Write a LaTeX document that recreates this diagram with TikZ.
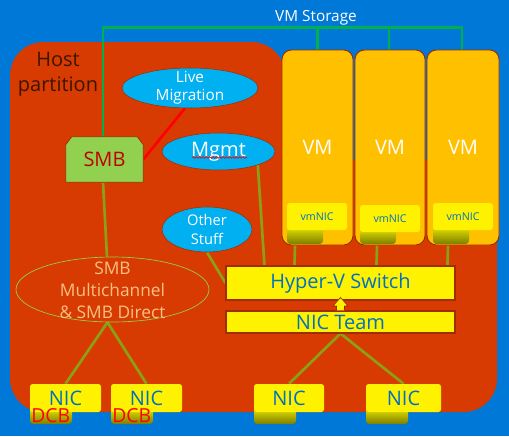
\documentclass[tikz,border=0pt]{standalone}
\usepackage{fontspec}
\setmainfont{Open Sans}
\usetikzlibrary{calc,shapes.geometric,decorations.pathmorphing}
\pgfdeclarelayer{layera}
\pgfdeclarelayer{layerb}
\pgfdeclarelayer{layerc}
\pgfsetlayers{layera,layerb,layerc,main}
\definecolor{bgblue}{RGB}{0,120,215}
\definecolor{hostc}{RGB}{216,59,1}
\definecolor{cyanc}{RGB}{0,176,240}
\definecolor{vmc}{RGB}{255,192,0}
\definecolor{txtblue}{RGB}{0,112,192}
\definecolor{linec}{RGB}{140,160,20}
\definecolor{edgec}{RGB}{160,45,0}
\definecolor{storc}{RGB}{0,176,80}
\definecolor{smbg}{RGB}{146,208,80}
\definecolor{peach}{RGB}{248,192,130}
\definecolor{olivedk}{RGB}{125,125,0}
\definecolor{hosttxt}{RGB}{58,22,0}
\definecolor{smbred}{RGB}{192,0,0}
\begin{document}
\begin{tikzpicture}[x=0.75pt,y=-0.75pt,
 vmbox/.style={draw=edgec,line width=0.7pt,fill=vmc,rounded corners=7pt,minimum width=#1*0.75pt,minimum height=146.25pt,inner sep=0pt,text=white,font=\fontsize{15}{18}\selectfont},
 vnic/.style={fill=yellow,rounded corners=2pt,minimum width=45pt,minimum height=20.25pt,inner sep=0pt,text=txtblue,font=\fontsize{8}{10}\selectfont},
 tabshade/.style={top color=yellow,bottom color=olivedk,rounded corners=2.5pt},
 bubble/.style={ellipse,draw=edgec,line width=0.4pt,fill=cyanc,inner sep=0pt},
 bubtxt/.style={text=white,align=center,inner sep=0pt},
 ybar/.style={draw=edgec,line width=0.8pt,fill=yellow,text=txtblue,inner sep=0pt,minimum width=171.75pt,font=\fontsize{15}{18}\selectfont},
 nicbox/.style={fill=yellow,rounded corners=2pt,text=txtblue,inner sep=0pt,minimum height=21pt,font=\fontsize{15}{18}\selectfont},
 dcbtxt/.style={text=red,inner sep=0pt,anchor=west,font=\fontsize{14.5}{17}\selectfont},
 conn/.style={draw=linec,line width=2pt},
 storline/.style={draw=storc,line width=2pt},
]
\useasboundingbox (0,0) rectangle (509,436);
\begin{pgfonlayer}{layera}
\fill[bgblue] (0,0) rectangle (509,436);
\fill[hostc,rounded corners=25pt] (10,42) -- (285,42) -- (285,160) -- (497,160) -- (497,412) -- (10,412) -- cycle;
\end{pgfonlayer}

\node[text=hosttxt,align=center,font=\fontsize{15}{18.75}\selectfont] (host) at (58,74) {Host\\partition};
\node[text=white,font=\fontsize{11.5}{14}\selectfont] (storage) at (316,18) {VM Storage};

% VMs
\node[vmbox=71] (vm1) at (317.5,147.5) {VM};
\node[vmbox=70] (vm2) at (390,147.5) {VM};
\node[vmbox=72] (vm3) at (463,147.5) {VM};
\shade[tabshade] (287,222) rectangle (323,244);
\shade[tabshade] (360,224) rectangle (396,244);
\shade[tabshade] (433,222) rectangle (469,244);
\node[vnic] (vn1) at (317,216.5) {vmNIC};
\node[vnic] (vn2) at (390,218.5) {vmNIC};
\node[vnic] (vn3) at (463,216.5) {vmNIC};

% switch and team
\node[ybar,minimum height=25.5pt] (hv) at (340.5,283) {Hyper-V Switch};
\node[ybar,minimum height=16.5pt] (team) at (340.5,322) {NIC Team};
\draw[draw=edgec,fill=yellow,line width=0.5pt] ($(team.north)+(-4,0)$) -- ++(0,-4.5) -- ++(-3.5,0) -- ($(team.north)+(0,-13)$) -- ($(team.north)+(7.5,-4.5)$) -- ++(-3.5,0) -- ($(team.north)+(4,0)$);

% bubbles
\node[bubble,minimum width=102pt,minimum height=30pt] (lm) at (190,88) {};
\node[bubtxt,font=\fontsize{11.5}{13.5}\selectfont] (lmt) at (lm.center) {Live\\Migration};
\node[bubble,minimum width=84.75pt,minimum height=27.75pt] (mgmt) at (218.5,151.5) {};
\node[bubtxt,font=\fontsize{15}{18}\selectfont] (mgmtt) at (mgmt.center) {Mgmt};
\draw[red,line width=0.5pt,decorate,decoration={snake,amplitude=0.6pt,segment length=2.5pt}] ($(mgmt.center)+(-26.5,6)$) -- ($(mgmt.center)+(28.5,6)$);
\node[bubble,minimum width=67.5pt,minimum height=33.75pt] (other) at (207,229.5) {};
\node[bubtxt,font=\fontsize{11}{14}\selectfont] (othert) at (other.center) {Other\\Stuff};

% SMB
\node[inner sep=0pt,minimum width=57.75pt,minimum height=33.75pt,text=smbred,font=\fontsize{15}{18}\selectfont] (smb) at (104.5,159.5) {SMB};
\begin{pgfonlayer}{layerc}
\filldraw[fill=smbg,draw=edgec,line width=0.5pt] (smb.south west) -- ($(smb.north west)+(0,8)$) -- ($(smb.north west)+(6,0)$) -- ($(smb.north east)+(-6,0)$) -- ($(smb.north east)+(0,8)$) -- (smb.south east) -- cycle;
\end{pgfonlayer}
\node[ellipse,draw=smbg,line width=0.5pt,minimum width=144.75pt,minimum height=48.75pt,inner sep=0pt] (smbm) at (112.5,289.5) {};
\node[text=peach,align=center,inner sep=0pt,font=\fontsize{13}{16.5}\selectfont] (smbmt) at (112.5,290) {SMB\\Multichannel\\\& SMB Direct};

% physical NICs
\shade[tabshade] (30,404) rectangle (72,424);
\shade[tabshade] (111,404) rectangle (153,424);
\shade[tabshade] (254,404) rectangle (296,424);
\shade[tabshade] (366,404) rectangle (408,424);
\node[nicbox,minimum width=53.25pt] (nic1) at (65.5,398) {NIC};
\node[nicbox,minimum width=53.25pt] (nic2) at (146.5,398) {NIC};
\node[nicbox,minimum width=52.5pt] (nic3) at (289,398) {NIC};
\node[nicbox,minimum width=56.25pt] (nic4) at (403.5,398) {NIC};
\node[dcbtxt] (dcb1) at (31,416) {DCB};
\node[dcbtxt] (dcb2) at (112,416) {DCB};

% connectors
\begin{pgfonlayer}{layerb}
\draw[storline] ($(smb.north)+(-1.5,0)$) |- ($(vm3.north)+(-1,-22)$) -- ($(vm3.north)+(-1,0)$);
\draw[storline] ($(vm1.north)+(0,-22)$) -- (vm1.north);
\draw[storline] ($(vm2.north)+(-1,-22)$) -- ($(vm2.north)+(-1,0)$);
\draw[red,line width=2pt] (smb.east) -- (lm.-104);
\draw[conn] ($(smb.south)+(-1.5,0)$) -- ($(smbm.north)+(-5.5,0)$);
\draw[conn] ($(smbm.south)+(-5,0)$) -- (nic1.north);
\draw[conn] ($(smbm.south)+(-5,0)$) -- (nic2.north);
\draw[conn] (team.south) -- (nic3.north);
\draw[conn] (team.south) -- (nic4.north);
\draw[conn] (mgmt.-19) -- ($(hv.north west)+(39,0)$);
\draw[conn] (other.south) -- (hv.west);
\draw[conn] ($(vm1.south)+(-22.5,0)$) -- ($(hv.north west)+(69,0)$);
\draw[conn] ($(vm2.south)+(-13,0)$) -- ($(hv.north west)+(151,0)$);
\draw[conn] ($(vm3.south)+(-15,0)$) -- ($(hv.north west)+(222,0)$);
\end{pgfonlayer}
\end{tikzpicture}
\end{document}
